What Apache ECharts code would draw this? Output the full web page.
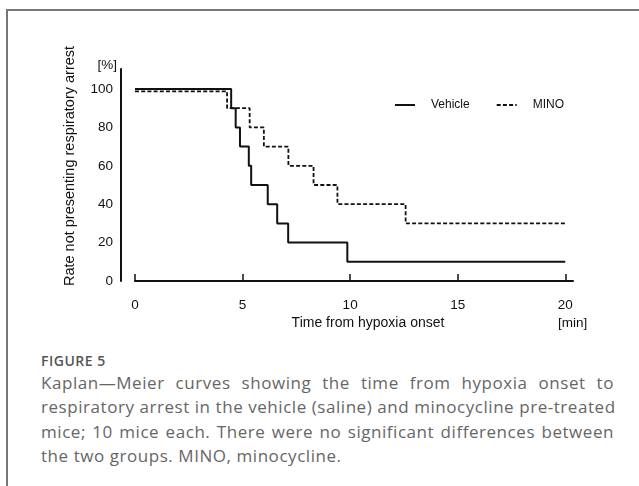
<!DOCTYPE html>
<html>
<head>
<meta charset="utf-8">
<script src="https://cdn.jsdelivr.net/npm/echarts@6/dist/echarts.min.js"></script>
<style>
	html, body {
		margin: 0;
		padding: 0;
		background: #fff;
	}
	.page {
		position: relative;
		width: 639px;
		height: 486px;
		overflow: hidden;
	}
	.frame {
		position: absolute;
		left: 6px;
		top: 9px;
		right: -4px;
		bottom: -4px;
		border-top: 2px solid #777;
		border-left: 2px solid #777;
	}
	#chart {
		position: absolute;
		left: 0;
		top: 0;
		width: 639px;
		height: 340px;
	}
	.fig-label {
		position: absolute;
		left: 41px;
		top: 351px;
		font: 600 14px/19px 'Open Sans', sans-serif;
		letter-spacing: 0.5px;
		color: #555;
	}
	.caption {
		position: absolute;
		left: 41px;
		top: 371px;
		width: 573px;
		font: 400 17px/24.3px 'Open Sans', sans-serif;
		letter-spacing: 0.55px;
		color: #666;
	}
	.caption span {
		display: block;
		white-space: nowrap;
		text-align: justify;
		text-align-last: justify;
	}
	.caption span.last {
		text-align-last: left;
	}
</style>
</head>
<body>
<div class="page">
	<div class="frame"></div>
	<div id="chart"></div>
	<div class="fig-label">FIGURE 5</div>
	<div class="caption">
		<span>Kaplan—Meier curves showing the time from hypoxia onset to</span>
		<span>respiratory arrest in the vehicle (saline) and minocycline pre-treated</span>
		<span>mice; 10 mice each. There were no significant differences between</span>
		<span class="last">the two groups. MINO, minocycline.</span>
	</div>
</div>
<script>
// survival steps (time in min, rate in %)
const vehicleTimes = [0, 4.47, 4.68, 4.88, 5.29, 5.4, 6.17, 6.61, 7.12, 9.87, 20]
const vehicleRates = [100, 90, 80, 70, 60, 50, 40, 30, 20, 10, 10]
const minoTimes = [0, 4.28, 5.33, 5.99, 7.13, 8.3, 9.41, 12.58, 20]
const minoRates = [98.8, 90, 80, 70, 60, 50, 40, 30, 30]
const xTicks = [0, 5, 10, 15, 20]
const yTicks = [0, 20, 40, 60, 80, 100]

const FONT = "'Liberation Sans', Arial, sans-serif"
const INK = '#111'

const chart = echarts.init(document.getElementById('chart'))

function toPoints(times, rates) {
	return times.map((t, i) => [t, rates[i]])
}

const options = {
	animation: false,
	textStyle: { fontFamily: FONT },
	grid: {
		left: 135,
		top: 69,
		width: 438,
		height: 212
	},
	legend: {
		left: 394,
		top: 99,
		padding: 0,
		itemWidth: 20,
		itemHeight: 12,
		itemGap: 26,
		itemStyle: { color: 'transparent', borderColor: 'transparent', borderWidth: 0, opacity: 0 },
		textStyle: {
			fontFamily: FONT,
			fontSize: 12,
			color: INK,
			padding: [0, 0, 0, 11]
		},
		data: ['Vehicle', 'MINO']
	},
	xAxis: {
		type: 'value',
		min: 0,
		max: 20.36,
		axisLine: { onZero: false, lineStyle: { color: INK, width: 2 } },
		axisTick: {
			inside: true,
			length: 7,
			customValues: xTicks,
			lineStyle: { color: INK, width: 1.5 }
		},
		axisLabel: {
			customValues: xTicks,
			margin: 17,
			fontSize: 13.5,
			color: INK,
			fontFamily: FONT
		},
		splitLine: { show: false }
	},
	yAxis: {
		type: 'value',
		position: 'left',
		min: 0,
		max: 110.4,
		offset: 14,
		axisLine: { show: true, onZero: false, lineStyle: { color: INK, width: 2 } },
		axisTick: { show: false },
		axisLabel: {
			customValues: yTicks,
			margin: 8,
			fontSize: 13.5,
			color: INK,
			fontFamily: FONT
		},
		splitLine: { show: false }
	},
	graphic: [
		{
			type: 'text',
			x: 70,
			y: 166,
			rotation: Math.PI / 2,
			style: {
				text: 'Rate not presenting respiratory arrest',
				font: '14.5px ' + FONT,
				fill: INK,
				align: 'center',
				verticalAlign: 'middle'
			}
		},
		{
			type: 'text',
			x: 117,
			y: 65,
			style: {
				text: '[%]',
				font: '13.5px ' + FONT,
				fill: INK,
				align: 'right',
				verticalAlign: 'middle'
			}
		},
		{
			type: 'text',
			x: 368,
			y: 323,
			style: {
				text: 'Time from hypoxia onset',
				font: '14px ' + FONT,
				fill: INK,
				align: 'center',
				verticalAlign: 'middle'
			}
		},
		{
			type: 'text',
			x: 558,
			y: 323,
			style: {
				text: '[min]',
				font: '13.5px ' + FONT,
				fill: INK,
				align: 'left',
				verticalAlign: 'middle'
			}
		}
	],
	series: [
		{
			name: 'Vehicle',
			type: 'line',
			step: 'end',
			symbol: 'none',
			lineStyle: { color: INK, width: 2 },
			itemStyle: { color: INK },
			data: toPoints(vehicleTimes, vehicleRates)
		},
		{
			name: 'MINO',
			type: 'line',
			step: 'end',
			symbol: 'none',
			lineStyle: { color: INK, width: 1.8, type: [4, 2.2] },
			itemStyle: { color: INK },
			data: toPoints(minoTimes, minoRates)
		}
	]
}

chart.setOption(options)
</script>
</body>
</html>
